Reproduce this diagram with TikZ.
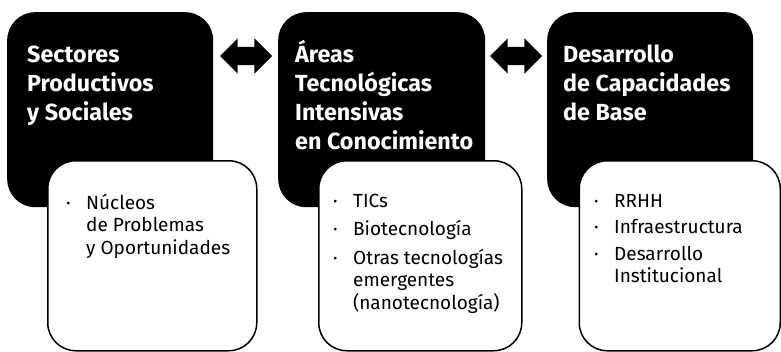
\documentclass[tikz,border=0pt]{standalone}
\usepackage{fontspec}
\setmainfont{Fira Sans}
\usetikzlibrary{shapes.arrows}
\tikzset{
    areabox/.style={
    rectangle,rounded corners=28pt,fill=black,inner sep=0pt,anchor=north west
    },
    itembox/.style={
    rectangle,rounded corners=28pt,draw=black,line width=1.5pt,fill=white,inner sep=0pt,anchor=north west
    },
    areatitle/.style={
    anchor=base west,inner sep=0pt,text=white,font=\fontsize{23.3}{29}\selectfont\bfseries
    },
    itemlist/.style={
    anchor=base west,inner sep=0pt,font=\fontsize{19}{22.5}\selectfont
    },
    link/.style={
    double arrow,fill=black,inner xsep=0pt,inner ysep=9pt,double arrow head extend=8.5pt,
    minimum height=52pt,minimum width=0pt
    },
}
\newcommand{\bul}{\makebox[20pt][l]{·}}

\begin{document}
\begin{tikzpicture}[x=1pt, y=-1pt]
   \useasboundingbox (0,0) rectangle (781,351);

   %black boxes
   \node[areabox,minimum width=206pt,minimum height=195pt] (sect) at (7,12) {};
   \node[areabox,minimum width=207pt,minimum height=195pt] (areas) at (278,12) {};
   \node[areabox,minimum width=206pt,minimum height=195pt] (capac) at (547,12) {};

   \node[areatitle] (sectT) at (27,62)
     {\begin{tabular}[t]{@{}l@{}}Sectores\\Productivos\\y Sociales\end{tabular}};
   \node[areatitle] (areasT) at (295,62)
     {\begin{tabular}[t]{@{}l@{}}Áreas\\Tecnológicas\\Intensivas\\en Conocimiento\end{tabular}};
   \node[areatitle] (capacT) at (563,62)
     {\begin{tabular}[t]{@{}l@{}}Desarrollo\\de Capacidades\\de Base\end{tabular}};

   %double arrows
   \node[link] (l12) at (246,56) {};
   \node[link] (l23) at (516,56) {};

   %white boxes
   \node[itembox,minimum width=209pt,minimum height=190pt] (sectI) at (47,160) {};
   \node[itembox,minimum width=203pt,minimum height=190pt] (areasI) at (318,160) {};
   \node[itembox,minimum width=201pt,minimum height=190pt] (capacI) at (578.5,160) {};

   \node[itemlist] (sectL) at (66,209)
     {\begin{tabular}[t]{@{}l@{}}\bul Núcleos\\\hspace*{20pt}de Problemas\\\hspace*{20pt}y Oportunidades\end{tabular}};
   \node[itemlist] (areasL) at (333,207)
     {\begin{tabular}[t]{@{}l@{}}\bul TICs\\[6pt]\bul Biotecnología\\[6pt]\bul Otras tecnologías\\\hspace*{20pt}emergentes\\\hspace*{20pt}(nanotecnología)\end{tabular}};
   \node[itemlist] (capacL) at (594,207)
     {\begin{tabular}[t]{@{}l@{}}\bul RRHH\\[4pt]\bul Infraestructura\\[4pt]\bul Desarrollo\\\hspace*{20pt}Institucional\end{tabular}};
\end{tikzpicture}
\end{document}
